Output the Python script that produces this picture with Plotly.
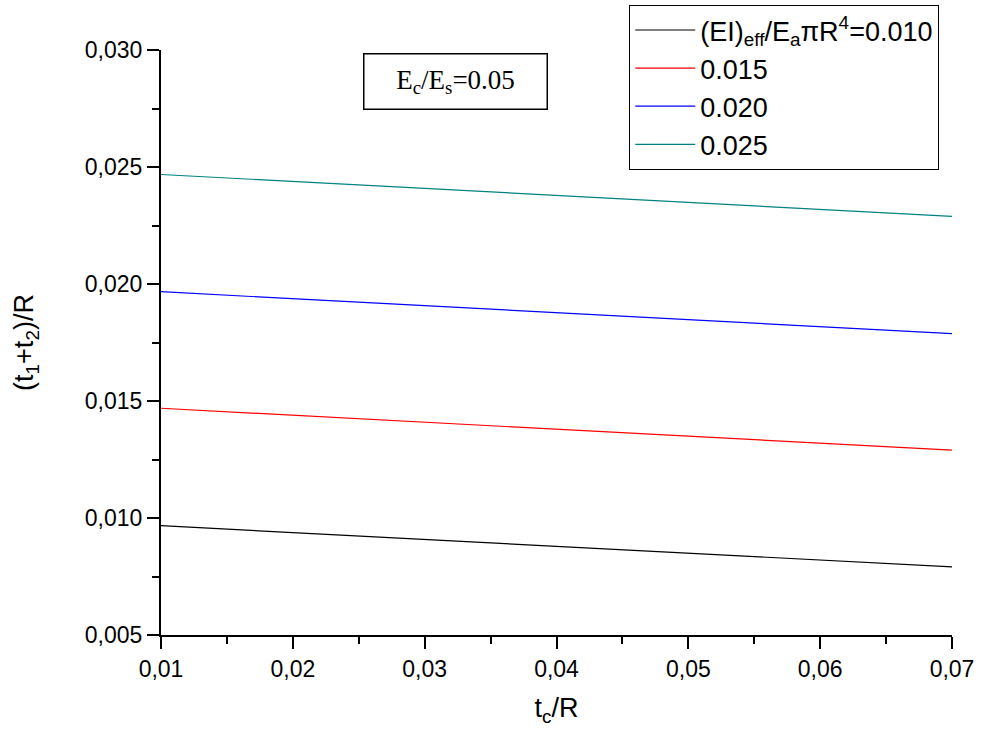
import plotly.graph_objects as go

# t_c/R sample points
tc_R = [0.01, 0.04, 0.07]

# (t1+t2)/R for each stiffness ratio
s_010 = [0.00967, 0.00879, 0.00791]
s_015 = [0.01469, 0.01380, 0.01290]
s_020 = [0.01967, 0.01878, 0.01788]
s_025 = [0.02468, 0.02379, 0.02289]

names = ["(EI)<sub>eff</sub>/E<sub>a</sub>πR<sup>4</sup>=0.010", "0.015", "0.020", "0.025"]
colors = ["#000000", "#ff0000", "#0000ff", "#008080"]
series = [s_010, s_015, s_020, s_025]

fig = go.Figure()
for name, col, ys in zip(names, colors, series):
    fig.add_trace(go.Scatter(x=tc_R, y=ys, mode="lines", name=name,
                             line=dict(color=col, width=1.2)))

sans = "Liberation Sans, Arial, sans-serif"

fig.update_layout(
    width=981, height=735,
    margin=dict(l=161, r=29, t=50, b=100, autoexpand=False),
    paper_bgcolor="white", plot_bgcolor="white",
    separators=", ",
    font=dict(family=sans, color="black", size=23),
    showlegend=True,
    legend=dict(
        x=0.592, y=1.077, xanchor="left", yanchor="top",
        bgcolor="white", bordercolor="black", borderwidth=1,
        font=dict(family=sans, size=27, color="black"),
        itemwidth=60, tracegroupgap=0,
    ),
    xaxis=dict(
        range=[0.01, 0.07], dtick=0.01, tick0=0.01, tickformat=".2f",
        showline=True, linecolor="black", linewidth=2, mirror=False,
        showgrid=False, zeroline=False,
        ticks="outside", ticklen=12, tickwidth=2, tickcolor="black",
        minor=dict(dtick=0.005, ticks="outside", ticklen=7, tickwidth=2, tickcolor="black", showgrid=False),
        tickfont=dict(size=23),
        title=dict(text="t<sub>c</sub>/R", font=dict(size=27), standoff=18),
    ),
    yaxis=dict(
        range=[0.005, 0.030], dtick=0.005, tick0=0.005, tickformat=".3f",
        showline=True, linecolor="black", linewidth=2, mirror=False,
        showgrid=False, zeroline=False,
        ticks="outside", ticklen=12, tickwidth=2, tickcolor="black",
        minor=dict(dtick=0.0025, ticks="outside", ticklen=7, tickwidth=2, tickcolor="black", showgrid=False),
        tickfont=dict(size=23),
        title=dict(text="(t<sub>1</sub>+t<sub>2</sub>)/R", font=dict(size=27), standoff=43),
    ),
    annotations=[dict(
        text="E<sub>c</sub>/E<sub>s</sub>=0.05",
        xref="paper", yref="paper", x=0.3717, y=0.947,
        xanchor="center", yanchor="middle", showarrow=False,
        font=dict(family="Liberation Serif, Times New Roman, serif", size=27, color="black"),
        bordercolor="black", borderwidth=1.5, borderpad=6, bgcolor="white",
        width=170, height=42,
    )],
)

fig.write_html("out.html")
